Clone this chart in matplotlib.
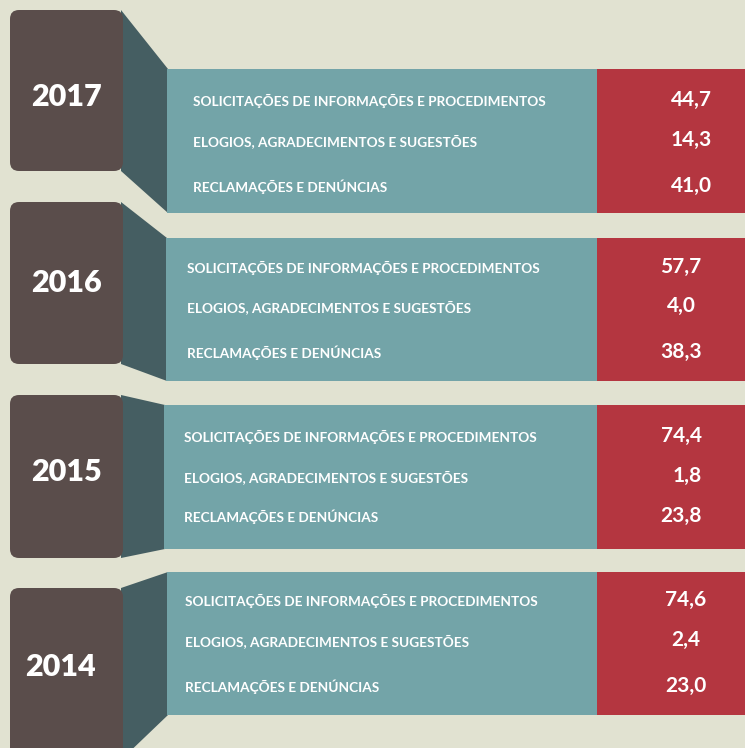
import matplotlib.pyplot as plt
from matplotlib.patches import FancyBboxPatch, Polygon, Rectangle

years = ["2017", "2016", "2015", "2014"]
categories = [
    "SOLICITAÇÕES DE INFORMAÇÕES E PROCEDIMENTOS",
    "ELOGIOS, AGRADECIMENTOS E SUGESTÕES",
    "RECLAMAÇÕES E DENÚNCIAS",
]
values_2017 = [44.7, 14.3, 41.0]
values_2016 = [57.7, 4.0, 38.3]
values_2015 = [74.4, 1.8, 23.8]
values_2014 = [74.6, 2.4, 23.0]
values = [values_2017, values_2016, values_2015, values_2014]

bg = "#e1e2d1"
box_col = "#5a4d4b"
side_col = "#455e62"
teal = "#73a4a8"
red = "#b43640"

# layout per block (pixel coords): box top/bottom, panel top/bottom, panel left
box_y = [(10, 171), (202, 364), (395, 558), (588, 760)]
panel_y = [(69, 213), (238, 381), (405, 549), (572, 715)]
panel_x0 = [167, 166, 164, 167]
year_xy = [(67, 97), (67, 283), (67, 472), (60, 667)]
label_x = [193, 187, 184, 185]
row_y = [(101, 141, 187), (268, 307, 353), (437, 477, 517), (601, 641, 687)]
val_x = [712, 681, 702, 686]
val_ha = ["right", "center", "right", "center"]

fig = plt.figure(figsize=(7.45, 7.48), dpi=100)
fig.patch.set_facecolor(bg)
ax = fig.add_axes([0, 0, 1, 1])
ax.set_xlim(0, 745)
ax.set_ylim(748, 0)
ax.axis("off")

font = "Lato"
box_x0, box_x1 = 10, 123
red_x0 = 597

for i, year in enumerate(years):
    by0, by1 = box_y[i]
    py0, py1 = panel_y[i]
    px0 = panel_x0[i]
    # side wall
    ax.add_patch(Polygon([(box_x1 - 2, by0), (px0 + 1, py0), (px0 + 1, py1), (box_x1 - 2, by1)],
                         closed=True, facecolor=side_col, edgecolor="none", zorder=1))
    # teal panel + red values column
    ax.add_patch(Rectangle((px0, py0), red_x0 - px0, py1 - py0, facecolor=teal,
                           edgecolor="none", zorder=2))
    ax.add_patch(Rectangle((red_x0, py0), 745 - red_x0, py1 - py0, facecolor=red,
                           edgecolor="none", zorder=2))
    # year box
    ax.add_patch(FancyBboxPatch((box_x0, by0), box_x1 - box_x0, by1 - by0,
                                boxstyle="round,pad=0,rounding_size=9",
                                facecolor=box_col, edgecolor="none", zorder=3))
    ax.text(year_xy[i][0], year_xy[i][1], year, color="white", fontsize=22,
            fontweight="heavy", family=font, ha="center", va="center", zorder=4)

    for j, cat in enumerate(categories):
        ax.text(label_x[i], row_y[i][j], cat, color="white", fontsize=9.8,
                fontweight="bold", family=font, ha="left", va="center", zorder=4)
        txt = f"{values[i][j]:.1f}".replace(".", ",")
        ax.text(val_x[i], row_y[i][j] - 1, txt, color="white", fontsize=15,
                fontweight="bold", family=font, ha=val_ha[i], va="center", zorder=4)

fig.savefig("out.png", dpi=100, facecolor=bg)
